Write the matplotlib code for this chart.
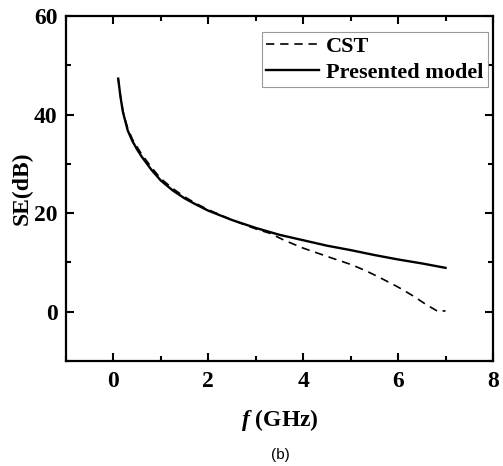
import matplotlib
matplotlib.use("Agg")
import matplotlib.pyplot as plt
from matplotlib.ticker import MultipleLocator

# SE curves
f_model = [0.1, 0.15, 0.2, 0.3, 0.4, 0.5, 0.6, 0.8, 1.0, 1.25, 1.5, 1.75, 2.0, 2.5, 3.0,
           3.5, 4.0, 4.5, 5.0, 5.5, 6.0, 6.5, 7.0]
se_model = [47.3, 43.5, 40.5, 36.8, 34.6, 32.9, 31.4, 28.8, 26.6, 24.6, 23.0, 21.7, 20.5,
            18.6, 17.0, 15.6, 14.5, 13.4, 12.5, 11.5, 10.6, 9.8, 8.9]

f_cst = [0.1, 0.15, 0.2, 0.3, 0.4, 0.5, 0.6, 0.8, 1.0, 1.25, 1.5, 1.75, 2.0, 2.5, 3.0,
         3.3, 3.6, 4.0, 4.3, 4.6, 5.0, 5.3, 5.6, 6.0, 6.3, 6.6, 6.85, 7.0]
se_cst = [47.3, 43.6, 40.7, 37.2, 35.0, 33.4, 31.9, 29.3, 27.0, 25.0, 23.3, 21.9, 20.7,
          18.6, 16.8, 15.9, 14.5, 12.9, 11.9, 10.9, 9.6, 8.4, 7.0, 5.0, 3.3, 1.4, 0.0, 0.2]

plt.rcParams['font.family'] = ['Liberation Serif', 'DejaVu Serif']
plt.rcParams['font.weight'] = 'bold'
plt.rcParams['mathtext.fontset'] = 'custom'
plt.rcParams['mathtext.it'] = 'Liberation Serif:bold:italic'

fig = plt.figure(figsize=(5.03, 4.66), dpi=100)
ax = fig.add_axes([66 / 503, 1 - 361 / 466, 427 / 503, 345 / 466])

ax.plot(f_cst, se_cst, color='black', linestyle=(0, (5, 3.5)), linewidth=1.2, label='CST')
ax.plot(f_model, se_model, color='black', linewidth=1.7, label='Presented model')

ax.set_xlim(-1, 8)
ax.set_ylim(-10, 60)
ax.xaxis.set_major_locator(MultipleLocator(2))
ax.xaxis.set_minor_locator(MultipleLocator(1))
ax.yaxis.set_major_locator(MultipleLocator(20))
ax.yaxis.set_minor_locator(MultipleLocator(10))
ax.tick_params(which='both', direction='in', top=True, right=True, width=1.5)
ax.tick_params(which='major', length=6, labelsize=17)
ax.tick_params(axis='y', which='major', pad=6)
ax.tick_params(axis='x', which='major', pad=7)
ax.tick_params(which='minor', length=3.5)
for s in ax.spines.values():
    s.set_linewidth(1.6)

ax.set_ylabel('SE(dB)', fontsize=17, fontweight='bold', labelpad=1)
ax.set_xlabel(r'$\mathit{f}$ (GHz)', fontsize=17, fontweight='bold', labelpad=11)

leg = ax.legend(loc='upper right', bbox_to_anchor=(0.988, 0.955), fontsize=16,
                frameon=True, fancybox=False, handlelength=2.4, handletextpad=0.3,
                borderpad=0.2, labelspacing=0.25, borderaxespad=0.0)
leg.get_frame().set_edgecolor('#808080')
leg.get_frame().set_linewidth(0.8)

fig.text(280 / 503, 1 - 455 / 466, '(b)', fontsize=11, fontweight='normal',
         family='Liberation Sans', ha='center', va='center')

fig.savefig('out.png', dpi=100)
